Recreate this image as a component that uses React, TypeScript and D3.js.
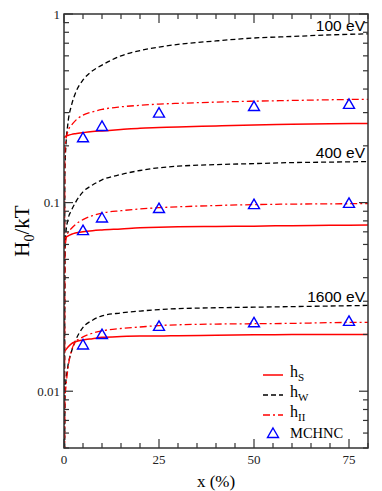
import * as d3 from "d3";

// x grid for the model curves (%)
const xGrid = [0, 0.25, 0.5, 1, 2, 3, 5, 7.5, 10, 15, 20, 25, 30, 40, 50, 60, 70, 80];

// 100 eV
const hS100 = [0.221, 0.223, 0.225, 0.227, 0.23, 0.232, 0.235, 0.238, 0.24, 0.244, 0.248, 0.25, 0.252, 0.255, 0.258, 0.26, 0.262, 0.263];
const hW100 = [0.0001, 0.15, 0.2, 0.26, 0.33, 0.38, 0.447, 0.5, 0.536, 0.6, 0.64, 0.668, 0.69, 0.72, 0.746, 0.76, 0.775, 0.785];
const hII100 = [0.0001, 0.19, 0.215, 0.238, 0.258, 0.272, 0.291, 0.303, 0.312, 0.322, 0.328, 0.333, 0.336, 0.341, 0.345, 0.348, 0.351, 0.353];

// 400 eV
const hS400 = [0.0645, 0.065, 0.0655, 0.0665, 0.068, 0.069, 0.0701, 0.071, 0.0716, 0.0725, 0.0735, 0.0741, 0.0744, 0.0748, 0.075, 0.0755, 0.0758, 0.0761];
const hW400 = [0.0001, 0.055, 0.069, 0.0806, 0.0913, 0.1, 0.114, 0.124, 0.132, 0.141, 0.148, 0.153, 0.156, 0.159, 0.161, 0.163, 0.164, 0.165];
const hII400 = [0.0001, 0.056, 0.063, 0.069, 0.0731, 0.0765, 0.0813, 0.0852, 0.088, 0.0906, 0.0925, 0.094, 0.095, 0.0965, 0.0976, 0.0982, 0.0985, 0.0988];

// 1600 eV
const hS1600 = [0.0162, 0.0164, 0.0166, 0.0171, 0.0179, 0.0183, 0.0187, 0.019, 0.0193, 0.0195, 0.0196, 0.0196, 0.0197, 0.0198, 0.0199, 0.02, 0.02, 0.02];
const hW1600 = [0.0001, 0.0098, 0.0113, 0.0135, 0.0163, 0.0185, 0.0218, 0.0238, 0.0251, 0.026, 0.0266, 0.0271, 0.0274, 0.0277, 0.0279, 0.0281, 0.0283, 0.0285];
const hII1600 = [0.0001, 0.009, 0.0105, 0.013, 0.0165, 0.0182, 0.0194, 0.0203, 0.0209, 0.0215, 0.0219, 0.0223, 0.0225, 0.0227, 0.0228, 0.0229, 0.0231, 0.0232];

// MCHNC simulation points
const mcX = [5, 10, 25, 50, 75];
const mc100 = [0.222, 0.255, 0.3, 0.325, 0.334];
const mc400 = [0.0715, 0.0834, 0.0936, 0.0982, 0.0997];
const mc1600 = [0.0177, 0.0201, 0.0222, 0.0232, 0.0236];

const energyLabels = ["100 eV", "400 eV", "1600 eV"];
const energyLabelY = [0.78, 0.166, 0.0285];

const xTickLabels = [0, 25, 50, 75];
const yTickLabels = [1, 0.1, 0.01];

export default function App() {
  const width = 382;
  const height = 491;
  const marginLeft = 64;
  const marginRight = 14;
  const marginTop = 14;
  const marginBottom = 43;

  const x = d3.scaleLinear().domain([0, 80]).range([marginLeft, width - marginRight]);
  const y = d3.scaleLog().domain([0.005, 1]).range([height - marginBottom, marginTop]);

  const line = (vals: number[]) =>
    d3
      .line<number>()
      .x((_, i) => x(xGrid[i]))
      .y((d) => y(d))
      .curve(d3.curveMonotoneX)(vals) as string;

  const xMinor = d3.range(0, 81, 5);
  const yMinor: number[] = [];
  [0.001, 0.01, 0.1].forEach((dec) => {
    for (let k = 1; k <= 9; k++) {
      const v = dec * k;
      if (v >= 0.005 - 1e-9 && v <= 1) yMinor.push(v);
    }
  });
  yMinor.push(1);
  const isMajorY = (v: number) => yTickLabels.some((t) => Math.abs(t - v) < 1e-9);

  const x0 = x(0);
  const x1 = x(80);
  const y0 = y(0.005);
  const y1 = y(1);

  const tri = (cx: number, cy: number) =>
    `M${cx},${cy - 5} L${cx + 5.5},${cy + 4.5} L${cx - 5.5},${cy + 4.5} Z`;

  const groups = [
    { s: hS100, w: hW100, ii: hII100, mc: mc100 },
    { s: hS400, w: hW400, ii: hII400, mc: mc400 },
    { s: hS1600, w: hW1600, ii: hII1600, mc: mc1600 },
  ];

  const serif = "'Liberation Serif', 'Times New Roman', serif";
  const sans = "'Liberation Sans', Arial, sans-serif";

  return (
    <div style={{ position: "absolute", left: 0, top: 0 }}>
      <svg width={width} height={height} style={{ display: "block", background: "#fff" }}>
        <defs>
          <clipPath id="plot">
            <rect x={x0} y={y1} width={x1 - x0} height={y0 - y1} />
          </clipPath>
        </defs>

        {/* curves */}
        <g clipPath="url(#plot)" fill="none">
          {groups.map((g, i) => (
            <g key={i}>
              <path d={line(g.w)} stroke="#000" strokeWidth={1.3} strokeDasharray="5 3" />
              <path d={line(g.ii)} stroke="#ff0000" strokeWidth={1.3} strokeDasharray="7 3 2 3" />
              <path d={line(g.s)} stroke="#ff0000" strokeWidth={1.5} />
              {g.mc.map((v, j) => (
                <path key={j} d={tri(x(mcX[j]), y(v))} stroke="#0000ff" strokeWidth={1.4} fill="none" />
              ))}
            </g>
          ))}
        </g>

        {/* energy labels */}
        {energyLabels.map((t, i) => (
          <text
            key={t}
            x={x1 - 3}
            y={y(energyLabelY[i]) - 3}
            textAnchor="end"
            fontFamily={sans}
            fontSize={15.5}
            fill="#000"
          >
            {t}
          </text>
        ))}

        {/* frame */}
        <rect x={x0} y={y1} width={x1 - x0} height={y0 - y1} fill="none" stroke="#333" strokeWidth={1.5} />

        {/* x ticks, bottom and top */}
        {xMinor.map((t) => {
          const len = t % 25 === 0 ? 9 : 5;
          return (
            <g key={t} stroke="#333" strokeWidth={1.2}>
              <line x1={x(t)} x2={x(t)} y1={y0} y2={y0 - len} />
              <line x1={x(t)} x2={x(t)} y1={y1} y2={y1 + len} />
            </g>
          );
        })}
        {xTickLabels.map((t) => (
          <text key={t} x={x(t)} y={y0 + 16} textAnchor="middle" fontFamily={serif} fontSize={13} fill="#222">
            {t}
          </text>
        ))}

        {/* y ticks, left and right */}
        {yMinor.map((t, i) => {
          const len = isMajorY(t) ? 9 : 5;
          return (
            <g key={i} stroke="#333" strokeWidth={1.2}>
              <line x1={x0} x2={x0 + len} y1={y(t)} y2={y(t)} />
              <line x1={x1} x2={x1 - len} y1={y(t)} y2={y(t)} />
            </g>
          );
        })}
        {yTickLabels.map((t) => (
          <text
            key={t}
            x={x0 - 4}
            y={y(t) + 4.5}
            textAnchor="end"
            fontFamily={serif}
            fontSize={13}
            fill="#222"
          >
            {t}
          </text>
        ))}

        {/* axis titles */}
        <text x={(x0 + x1) / 2} y={487} textAnchor="middle" fontFamily={serif} fontSize={17}>
          x (%)
        </text>
        <text
          transform={`translate(29, ${(y0 + y1) / 2}) rotate(-90)`}
          textAnchor="middle"
          fontFamily={serif}
          fontSize={21}
        >
          H<tspan fontSize={14} dy={5}>0</tspan>
          <tspan dy={-5}>/kT</tspan>
        </text>

        {/* legend */}
        <g fontFamily={serif}>
          <line x1={263} x2={283} y1={375} y2={375} stroke="#ff0000" strokeWidth={1.5} />
          <text x={290} y={377} fontSize={16}>
            h<tspan fontSize={11} dy={4}>S</tspan>
          </text>
          <line x1={263} x2={283} y1={395} y2={395} stroke="#000" strokeWidth={1.3} strokeDasharray="5 3" />
          <text x={290} y={397} fontSize={16}>
            h<tspan fontSize={11} dy={4}>W</tspan>
          </text>
          <line x1={263} x2={283} y1={415} y2={415} stroke="#ff0000" strokeWidth={1.3} strokeDasharray="7 3 2 3" />
          <text x={290} y={417} fontSize={16}>
            h<tspan fontSize={11} dy={4}>II</tspan>
          </text>
          <path d={tri(273, 433)} stroke="#0000ff" strokeWidth={1.4} fill="none" />
          <text x={290} y={438} fontSize={14.5}>
            MCHNC
          </text>
        </g>
      </svg>
    </div>
  );
}
